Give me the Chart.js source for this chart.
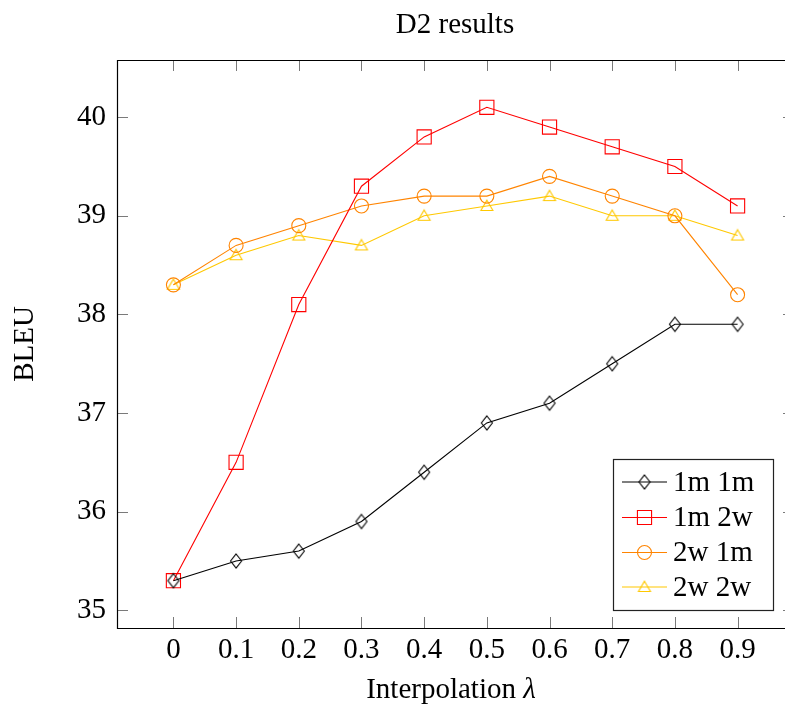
<!DOCTYPE html>
<html>
<head>
<meta charset="utf-8">
<script src="https://cdn.jsdelivr.net/npm/chart.js@4/dist/chart.umd.min.js"></script>
<style>
  html, body { margin: 0; padding: 0; background: #fff; overflow: hidden; width: 785px; height: 705px; }
  #wrap { position: absolute; left: 0; top: 0; width: 785px; height: 705px; overflow: hidden; }
  canvas { display: block; }
</style>
</head>
<body>
<div id="wrap"><canvas id="c" width="830" height="705"></canvas></div>
<script>
// ---- data ----
const lambdas = [0, 0.1, 0.2, 0.3, 0.4, 0.5, 0.6, 0.7, 0.8, 0.9];
const xTickLabels = ['0', '0.1', '0.2', '0.3', '0.4', '0.5', '0.6', '0.7', '0.8', '0.9'];
const yTickValues = [35, 36, 37, 38, 39, 40];
const seriesNames = ['1m 1m', '1m 2w', '2w 1m', '2w 2w'];
const bleu1m1m = [35.3, 35.5, 35.6, 35.9, 36.4, 36.9, 37.1, 37.5, 37.9, 37.9];
const bleu1m2w = [35.3, 36.5, 38.1, 39.3, 39.8, 40.1, 39.9, 39.7, 39.5, 39.1];
const bleu2w1m = [38.3, 38.7, 38.9, 39.1, 39.2, 39.2, 39.4, 39.2, 39.0, 38.2];
const bleu2w2w = [38.3, 38.6, 38.8, 38.7, 39.0, 39.1, 39.2, 39.0, 39.0, 38.8];
const chartTitle = 'D2 results';
const xTitle = 'Interpolation ';
const xTitleSymbol = 'λ';
const yTitle = 'BLEU';

// ---- styles ----
const FONT = "'Liberation Serif', 'Times New Roman', serif";
const FS = 29;
const colors = ['#000000', '#ff0000', '#ff8400', '#ffc800'];

function makeDiamond(color) {
  const c = document.createElement('canvas');
  c.width = 14; c.height = 18;
  const g = c.getContext('2d');
  g.strokeStyle = color; g.lineWidth = 1.1;
  g.beginPath();
  g.moveTo(7, 2); g.lineTo(12.5, 9); g.lineTo(7, 16); g.lineTo(1.5, 9); g.closePath();
  g.stroke();
  return c;
}
function makeTriangle(color) {
  const c = document.createElement('canvas');
  c.width = 16; c.height = 16;
  const g = c.getContext('2d');
  g.strokeStyle = color; g.lineWidth = 1.1;
  g.beginPath();
  g.moveTo(8, 2.2); g.lineTo(14, 12.5); g.lineTo(2, 12.5); g.closePath();
  g.stroke();
  return c;
}
const diamondImg = makeDiamond(colors[0]);
const triImg = makeTriangle(colors[3]);

function pts(arr) { return lambdas.map((x, i) => ({ x: x, y: arr[i] })); }

const datasets = [
  { label: seriesNames[0], data: pts(bleu1m1m), borderColor: colors[0], pointStyle: diamondImg, pointRadius: 7 },
  { label: seriesNames[1], data: pts(bleu1m2w), borderColor: colors[1], pointStyle: 'rect', pointRadius: 10 },
  { label: seriesNames[2], data: pts(bleu2w1m), borderColor: colors[2], pointStyle: 'circle', pointRadius: 7 },
  { label: seriesNames[3], data: pts(bleu2w2w), borderColor: colors[3], pointStyle: triImg, pointRadius: 7 }
].map(d => Object.assign(d, {
  borderWidth: 1.1,
  pointBorderColor: d.borderColor,
  pointBackgroundColor: 'rgba(0,0,0,0)',
  pointBorderWidth: 1.1,
  pointHoverRadius: d.pointRadius,
  tension: 0,
  fill: false
}));

const framePlugin = {
  id: 'frame',
  afterDraw(chart) {
    const ctx = chart.ctx;
    const a = chart.chartArea;
    const xs = chart.scales.x, ys = chart.scales.y;
    ctx.save();
    // ticks (inward, on both sides)
    ctx.strokeStyle = '#7a7a7a';
    ctx.lineWidth = 1;
    const TL = 11;
    xs.ticks.forEach(t => {
      const px = Math.round(xs.getPixelForValue(t.value)) + 0.5;
      ctx.beginPath();
      ctx.moveTo(px, a.bottom); ctx.lineTo(px, a.bottom - TL);
      ctx.moveTo(px, a.top); ctx.lineTo(px, a.top + TL);
      ctx.stroke();
    });
    ys.ticks.forEach(t => {
      const py = Math.round(ys.getPixelForValue(t.value)) + 0.5;
      ctx.beginPath();
      ctx.moveTo(a.left, py); ctx.lineTo(a.left + TL, py);
      ctx.moveTo(a.right, py); ctx.lineTo(a.right - TL, py);
      ctx.stroke();
    });
    // frame (left, top, bottom; the right side lies beyond the visible page)
    ctx.strokeStyle = '#000';
    ctx.lineWidth = 1.2;
    const L = Math.round(a.left) + 0.5, T = Math.round(a.top) + 0.5, B = Math.round(a.bottom) + 0.5, R = Math.round(a.right) + 0.5;
    ctx.beginPath();
    ctx.moveTo(R, T); ctx.lineTo(L, T); ctx.lineTo(L, B); ctx.lineTo(R, B);
    ctx.stroke();

    // title
    ctx.fillStyle = '#000';
    ctx.font = FS + 'px ' + FONT;
    ctx.textAlign = 'center';
    ctx.textBaseline = 'middle';
    ctx.fillText(chartTitle, 455, 25);

    // x title with italic lambda
    ctx.font = FS + 'px ' + FONT;
    const w1 = ctx.measureText(xTitle).width;
    ctx.font = 'italic ' + FS + 'px ' + FONT;
    const w2 = ctx.measureText(xTitleSymbol).width;
    const x0 = 451 - (w1 + w2) / 2;
    ctx.textAlign = 'left';
    ctx.font = FS + 'px ' + FONT;
    ctx.fillText(xTitle, x0, 690);
    ctx.font = 'italic ' + FS + 'px ' + FONT;
    ctx.fillText(xTitleSymbol, x0 + w1, 690);

    // y title
    ctx.save();
    ctx.translate(25, 344);
    ctx.rotate(-Math.PI / 2);
    ctx.font = FS + 'px ' + FONT;
    ctx.textAlign = 'center';
    ctx.fillText(yTitle, 0, 0);
    ctx.restore();

    // legend
    const lx = 613.5, ly = 459.5, lw = 160, lh = 151;
    ctx.fillStyle = '#fff';
    ctx.fillRect(lx, ly, lw, lh);
    ctx.strokeStyle = '#222';
    ctx.lineWidth = 1.2;
    ctx.strokeRect(lx, ly, lw, lh);
    const rows = [482, 517.5, 552.5, 587];
    chart.data.datasets.forEach((d, i) => {
      const y = rows[i];
      ctx.strokeStyle = d.borderColor;
      ctx.lineWidth = 1.1;
      ctx.beginPath();
      ctx.moveTo(622, y); ctx.lineTo(667, y);
      ctx.stroke();
      const ps = d.pointStyle;
      if (ps instanceof HTMLCanvasElement) {
        ctx.drawImage(ps, 644.5 - ps.width / 2, y - ps.height / 2);
      } else {
        ctx.save();
        ctx.fillStyle = '#fff';
        ctx.strokeStyle = d.borderColor;
        ctx.lineWidth = 1.1;
        Chart.helpers.drawPoint(ctx, { pointStyle: ps, radius: d.pointRadius, borderWidth: 1.1 }, 644.5, y);
        ctx.restore();
        ctx.strokeStyle = d.borderColor;
        ctx.beginPath();
        ctx.moveTo(622, y); ctx.lineTo(667, y);
        ctx.stroke();
      }
      ctx.fillStyle = '#000';
      ctx.font = FS + 'px ' + FONT;
      ctx.textAlign = 'left';
      ctx.textBaseline = 'middle';
      ctx.fillText(d.label, 673, y + 1);
    });
    ctx.restore();
  }
};

new Chart(document.getElementById('c'), {
  type: 'line',
  data: { datasets: datasets },
  options: {
    responsive: false,
    animation: false,
    layout: { autoPadding: false, padding: { top: 60, right: 36, left: 0, bottom: 0 } },
    plugins: { legend: { display: false }, title: { display: false }, tooltip: { enabled: false } },
    scales: {
      x: {
        type: 'linear',
        min: -0.09, max: 0.99,
        grid: { display: false, drawTicks: false },
        border: { display: false },
        afterBuildTicks(s) { s.ticks = lambdas.map(v => ({ value: v })); },
        afterFit(s) { s.height = 77; s.paddingRight = 0; },
        ticks: {
          padding: 5,
          color: '#000',
          font: { family: FONT, size: FS },
          maxRotation: 0,
          autoSkip: false,
          callback: (v, i) => xTickLabels[i]
        }
      },
      y: {
        type: 'linear',
        min: 34.82, max: 40.58,
        grid: { display: false, drawTicks: false },
        border: { display: false },
        afterBuildTicks(s) { s.ticks = yTickValues.map(v => ({ value: v })); },
        afterFit(s) { s.width = 117; },
        ticks: {
          padding: 11,
          color: '#000',
          font: { family: FONT, size: FS },
          autoSkip: false,
          callback: (v) => String(v)
        }
      }
    }
  },
  plugins: [framePlugin]
});
</script>
</body>
</html>
